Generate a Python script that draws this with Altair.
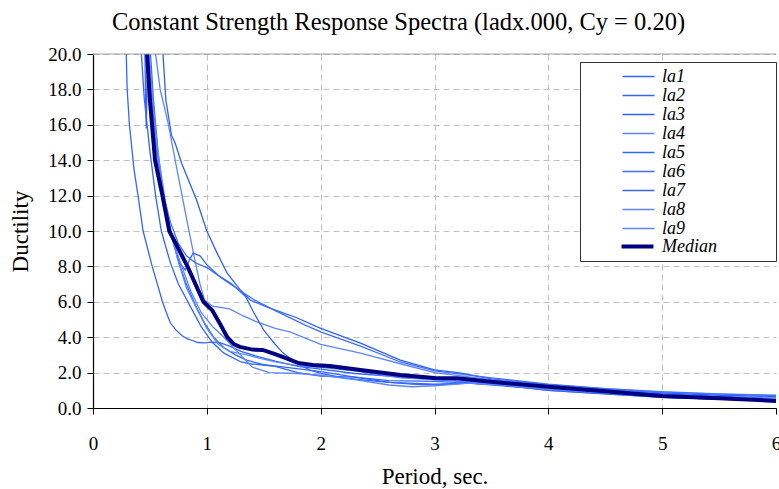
import altair as alt
import pandas as pd

# ---- data (period in sec, ductility) ----
la1_T = [0.29,0.30,0.32,0.36,0.40,0.44,0.48,0.52,0.57,0.61,0.65,0.68,0.73,0.78,0.83,0.88,0.92,0.98,1.04,1.12,1.2,1.3,1.45,1.6,1.8,2.0,2.3,2.6,3.0,3.5,4.0,4.5,5.0,5.5,6.0]
la1_mu = [20.5,18.0,16.0,13.5,11.8,10.0,9.0,8.0,6.9,6.0,5.3,4.8,4.4,4.1,3.9,3.8,3.7,3.68,3.72,3.68,3.5,3.2,2.9,2.65,2.35,2.2,1.95,1.8,1.6,1.4,1.2,1.0,0.8,0.65,0.55]

la2_T = [0.455,0.462,0.468,0.474,0.48,0.50,0.53,0.57,0.62,0.68,0.75,0.82,0.9,0.98,1.06,1.15,1.25,1.35,1.5,1.7,2.0,2.3,2.6,3.0,3.3,3.6,4.0,4.5,5.0,5.5,6.0]
la2_mu = [20.5,17.5,15.8,18.0,21.0,20.5,17.5,14.5,12.0,10.0,8.3,7.0,5.8,4.8,4.0,3.4,3.0,2.7,2.45,2.3,2.05,1.75,1.45,1.35,1.4,1.25,1.05,0.85,0.62,0.5,0.42]

la3_T = [0.61,0.64,0.69,0.72,0.78,0.85,0.91,1.0,1.09,1.18,1.29,1.38,1.53,1.79,2.0,2.35,2.7,3.0,3.22,3.5,4.0,4.5,5.0,5.5,6.0]
la3_mu = [20.5,17.4,15.4,15.0,13.8,12.7,11.75,10.0,8.75,7.6,6.7,6.1,5.7,5.1,4.5,3.66,2.7,2.15,1.98,1.65,1.3,1.05,0.85,0.72,0.65]

la4_T = [0.54,0.59,0.66,0.74,0.79,0.85,0.90,0.94,0.98,1.05,1.2,1.32,1.44,1.6,1.73,2.0,2.35,2.7,3.0,3.5,4.0,4.5,5.0,5.5,6.0]
la4_mu = [20.5,18.0,16.1,13.4,11.75,9.8,8.2,7.0,6.1,5.75,5.6,5.2,4.86,4.5,4.3,3.6,3.1,2.5,2.0,1.6,1.3,1.1,0.92,0.8,0.72]

la5_T = [0.48,0.52,0.57,0.63,0.70,0.76,0.81,0.85,0.88,0.94,1.0,1.1,1.22,1.34,1.42,1.5,1.6,1.67,1.8,1.9,2.0,2.2,2.5,2.8,3.0,3.3,3.6,4.0,4.5,5.0,5.5,6.0]
la5_mu = [20.5,17.0,14.0,11.5,9.5,8.2,7.8,8.4,8.75,8.6,8.1,7.5,7.0,6.3,5.3,4.4,3.6,3.1,2.5,2.15,1.95,1.7,1.5,1.35,1.3,1.4,1.3,1.0,0.8,0.6,0.5,0.42]

la6_T = [0.47,0.51,0.56,0.62,0.68,0.75,0.82,0.9,1.01,1.16,1.31,1.42,1.6,1.86,2.0,2.35,2.7,3.0,3.5,4.0,4.5,5.0,5.5,6.0]
la6_mu = [20.5,17.5,14.5,12.0,10.5,9.3,8.6,8.2,7.9,7.2,6.55,6.1,5.5,4.7,4.3,3.5,2.6,2.1,1.7,1.35,1.1,0.9,0.78,0.7]

la7_T = [0.42,0.45,0.5,0.55,0.6,0.68,0.75,0.85,0.95,1.05,1.15,1.3,1.38,1.6,1.8,2.0,2.3,2.6,3.0,3.5,4.0,4.5,5.0,5.5,6.0]
la7_mu = [20.5,17.5,14.5,12.0,10.0,8.2,7.0,5.8,4.6,3.7,3.1,2.6,2.5,2.35,2.0,1.8,1.75,1.55,1.5,1.35,1.0,0.8,0.6,0.5,0.45]

la8_T = [0.47,0.5,0.55,0.6,0.66,0.74,0.82,0.92,1.0,1.1,1.2,1.35,1.6,1.8,2.0,2.3,2.7,3.0,3.5,4.0,4.5,5.0,5.5,6.0]
la8_mu = [20.5,18.0,15.0,12.5,10.5,8.5,6.8,5.5,4.5,3.6,3.2,3.0,2.6,2.4,2.3,2.1,1.7,1.6,1.45,1.15,0.95,0.75,0.6,0.5]

la9_T = [0.49,0.53,0.58,0.64,0.7,0.78,0.86,0.95,1.05,1.15,1.25,1.4,1.55,1.8,2.0,2.3,2.6,2.8,3.0,3.3,3.6,4.0,4.5,5.0,5.5,6.0]
la9_mu = [20.5,17.0,14.0,11.5,9.5,8.0,6.6,5.4,4.6,4.0,3.3,2.3,2.0,1.95,1.85,1.6,1.3,1.2,1.25,1.4,1.3,1.05,0.85,0.7,0.6,0.55]

med_T = [0.47,0.50,0.545,0.61,0.67,0.75,0.83,0.9,0.97,1.05,1.12,1.18,1.24,1.29,1.4,1.49,1.6,1.70,1.8,1.93,2.08,2.35,2.7,3.0,3.2,3.5,4.0,4.5,5.0,5.5,6.0]
med_mu = [20.5,17.4,14.0,12.0,10.0,9.0,8.0,7.0,6.0,5.5,4.7,4.0,3.6,3.45,3.3,3.28,3.05,2.8,2.55,2.43,2.37,2.15,1.86,1.7,1.68,1.48,1.2,0.95,0.68,0.55,0.4]

record_names = ["la1","la2","la3","la4","la5","la6","la7","la8","la9"]
record_colors = ["#3366ff","#3366ff","#2f5fff","#5b86ff","#3366ff","#3f6fff","#3366ff","#5b86ff","#5b86ff"]
median_name = "Median"
median_color = "#000080"
x_ticks = [0,1,2,3,4,5,6]
y_ticks = [0,2,4,6,8,10,12,14,16,18,20]
y_top = [20]

pairs = [(la1_T,la1_mu),(la2_T,la2_mu),(la3_T,la3_mu),(la4_T,la4_mu),(la5_T,la5_mu),
         (la6_T,la6_mu),(la7_T,la7_mu),(la8_T,la8_mu),(la9_T,la9_mu)]
rows = []
for name, (T, mu) in zip(record_names, pairs):
    for i, (t, m) in enumerate(zip(T, mu)):
        rows.append({"series": name, "T": t, "mu": m, "i": i})
df = pd.DataFrame(rows)
df_med = pd.DataFrame({"series": median_name, "T": med_T, "mu": med_mu, "i": range(len(med_T))})
df_top = pd.DataFrame({"mu": y_top})

FONT = "Liberation Serif"
legend_common = dict(
    orient="none", symbolType="M-1.88,0H1.88", symbolSize=289,
    labelFont=FONT, labelFontSize=18, labelFontStyle="italic", labelColor="black",
    padding=5, rowPadding=0, symbolOffset=44, labelOffset=14,
)

# invisible bottom title only reserves the room of the Median row and the box width
legend_rec = alt.Legend(
    legendX=487, legendY=8, symbolStrokeWidth=1.3,
    fillColor="white", strokeColor="#333333",
    title="MMMMMMMMMMMn", titleOrient="bottom", titleFontSize=18, titlePadding=0,
    titleFont=FONT, titleFontWeight="normal", titleOpacity=0, titleLimit=400,
    **legend_common,
)
legend_med = alt.Legend(
    legendX=485, legendY=177, symbolStrokeWidth=4, title=None,
    **legend_common,
)

xenc = alt.X("T:Q", scale=alt.Scale(domain=[0, 6], nice=False),
             axis=alt.Axis(values=x_ticks, format="d", title="Period, sec.", labelFont=FONT,
                           labelFlush=False, labelOverlap=False,
                           gridOpacity={"condition": {"test": "datum.value === 6", "value": 0}, "value": 1}))
yenc = alt.Y("mu:Q", scale=alt.Scale(domain=[0, 20], nice=False),
             axis=alt.Axis(values=y_ticks, format=".1f", title="Ductility", labelFont=FONT,
                           labelFlush=False, labelOverlap=False))

lines = alt.Chart(df).mark_line(clip=True, strokeWidth=1.3).encode(
    x=xenc, y=yenc,
    color=alt.Color("series:N", scale=alt.Scale(domain=record_names, range=record_colors), legend=legend_rec),
    order="i:Q",
)
median = alt.Chart(df_med).mark_line(clip=True, strokeWidth=4).encode(
    x=xenc, y=yenc,
    color=alt.Color("series:N", scale=alt.Scale(domain=[median_name], range=[median_color]), legend=legend_med),
    order="i:Q",
)

top_rule = alt.Chart(df_top).mark_rule(color="#a0a0a0", strokeWidth=1.2).encode(y=yenc)

chart = alt.layer(lines, median, top_rule).resolve_scale(color="independent").properties(
    width=683, height=354,
    title=alt.Title("Constant Strength Response Spectra (ladx.000, Cy = 0.20)",
                    font=FONT, fontSize=24.5, fontWeight="normal", color="black",
                    anchor="middle", dx=-36, offset=10),
    autosize=alt.AutoSizeParams(type="none"),
    padding={"left": 93, "top": 54, "right": 3, "bottom": 81},
).configure_view(stroke=None).configure_axis(
    labelFont=FONT, labelFontSize=19, labelColor="black", labelOverlap=False,
    titleFont=FONT, titleFontSize=23, titleFontWeight="normal", titleColor="black",
    domainColor="black", tickColor="black", tickSize=6, domainWidth=1.2,
    gridColor="#c0c0c0", gridDash=[6, 4], gridWidth=1,
).configure_axisX(labelPadding=20, titlePadding=12).configure_axisY(labelPadding=6, titlePadding=15)

chart.save("out.html", embed_options={"renderer": "svg", "actions": False})
